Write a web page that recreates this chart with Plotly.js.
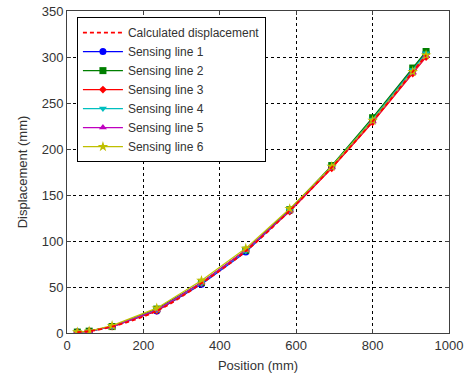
<!DOCTYPE html>
<html><head><meta charset="utf-8">
<script src="https://cdn.plot.ly/plotly-3.0.1.min.js"></script>
<style>html,body{margin:0;padding:0;background:#fff}#c{width:470px;height:373px}</style>
</head><body><div id="c"></div>
<script>
const positions = [27, 58, 118, 235, 352, 468, 583, 693, 800, 905, 940];
const calculated = [1, 2, 7, 24, 54, 89, 133, 180, 230, 284, 302];
const line1 = [1, 2, 7, 24, 53, 88, 133, 181, 232, 286, 305];
const line2 = [1, 2, 7, 26, 55, 90, 134, 182, 234, 288, 306];
const line3 = [1, 2, 7, 24, 54, 90, 132, 179, 229, 282, 300];
const line4 = [1, 2, 7, 25, 54, 89, 133, 181, 232, 286, 304];
const line5 = [1, 2, 7, 25, 55, 90, 133, 180, 230, 283, 301];
const line6 = [1, 2, 8, 27, 57, 92, 135, 181, 231, 284, 302];
const seriesNames = ["Calculated displacement","Sensing line 1","Sensing line 2","Sensing line 3","Sensing line 4","Sensing line 5","Sensing line 6"];
const xTicks = [0, 200, 400, 600, 800, 1000];
const yTicks = [0, 50, 100, 150, 200, 250, 300, 350];

const sens = [
  {y: line1, color: '#0000ff', symbol: 'circle', size: 7},
  {y: line2, color: '#007f00', symbol: 'square', size: 7},
  {y: line3, color: '#ff0000', symbol: 'diamond', size: 6},
  {y: line4, color: '#00bfbf', symbol: 'triangle-down', size: 7},
  {y: line5, color: '#bf00bf', symbol: 'triangle-up', size: 7},
  {y: line6, color: '#bfbf00', symbol: 'star', size: 8}
];
const traces = [];
sens.forEach((s, i) => {
  traces.push({x: positions, y: s.y, name: seriesNames[i+1], type: 'scatter', mode: 'lines+markers',
    line: {color: s.color, width: 1.2}, marker: {color: s.color, symbol: s.symbol, size: s.size}});
});
traces.push({x: positions, y: calculated, name: seriesNames[0], type: 'scatter', mode: 'lines',
  line: {color: '#ff0000', width: 1.8, dash: '4px,3px', shape: 'spline'}, legendrank: 1});

const axisCommon = {showline: true, mirror: 'ticks', linecolor: '#404040', linewidth: 1,
  ticks: 'inside', ticklen: 4, tickcolor: '#404040', showgrid: true, gridcolor: '#000', griddash: '3px,3px',
  gridwidth: 1, zeroline: false, tickfont: {family: 'Liberation Sans, Arial', size: 13, color: '#333'}};
const layout = {
  width: 470, height: 373,
  margin: {l: 67, r: 21, t: 11, b: 40},
  paper_bgcolor: '#fff', plot_bgcolor: '#fff',
  showlegend: true,
  legend: {x: 0.026, y: 0.981, xanchor: 'left', yanchor: 'top', bgcolor: '#fff', bordercolor: '#000', borderwidth: 1,
    font: {family: 'Liberation Sans, Arial', size: 12, color: '#333'}, tracegroupgap: 0, itemwidth: 40},
  xaxis: Object.assign({}, axisCommon, {range: [0, 1000], tickvals: xTicks, ticktext: xTicks.map(String),
    title: {text: 'Position (mm)', font: {family: 'Liberation Sans, Arial', size: 13, color: '#333'}, standoff: 9}}),
  yaxis: Object.assign({}, axisCommon, {range: [0, 350], tickvals: yTicks, ticktext: yTicks.map(String),
    title: {text: 'Displacement (mm)', font: {family: 'Liberation Sans, Arial', size: 13, color: '#333'}, standoff: 11}})
};
Plotly.newPlot('c', traces, layout, {displayModeBar: false, staticPlot: true});
</script></body></html>
